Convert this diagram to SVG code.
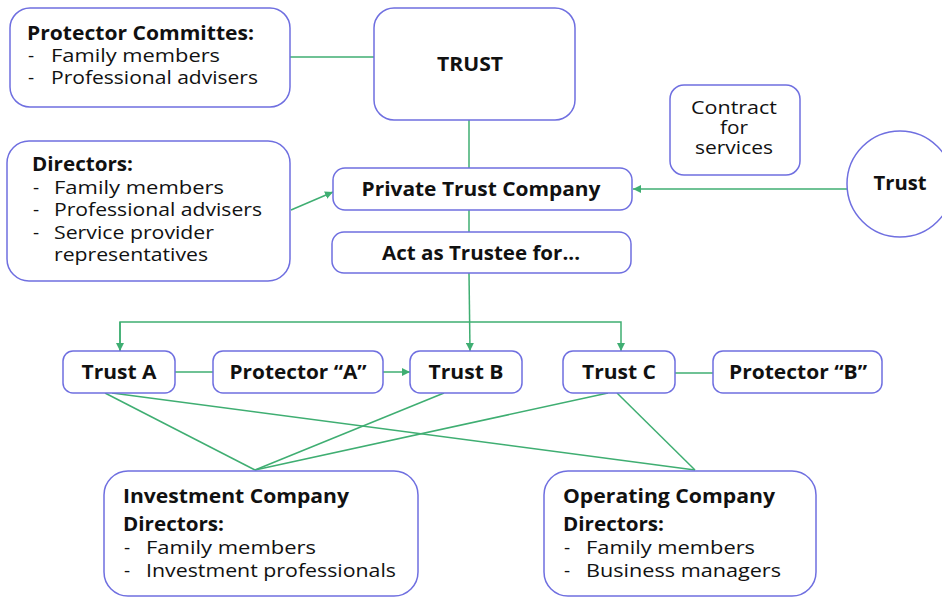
<svg xmlns="http://www.w3.org/2000/svg" width="942" height="597" viewBox="0 0 942 597">
<defs>
<style>
.box{fill:#fff;stroke:#6f6fe0;stroke-width:1.5}
.ln{fill:none;stroke:#3fae72;stroke-width:1.5}
text{font-family:"Open Sans","Liberation Sans",sans-serif;fill:#111;font-size:19px}
.b{font-weight:bold}
.c{text-anchor:middle}
</style>
<marker id="ah" viewBox="0 0 10 10" refX="10" refY="5" markerWidth="8" markerHeight="8" markerUnits="userSpaceOnUse" orient="auto">
<path d="M0,0 L10,5 L0,10 z" fill="#3fae72"/>
</marker>
</defs>
<rect width="942" height="597" fill="#fff"/>
<g id="connectors">
<line class="ln" x1="290" y1="57" x2="374" y2="57"/>
<line class="ln" x1="469" y1="120" x2="469" y2="168"/>
<line class="ln" x1="291" y1="210" x2="333" y2="192" marker-end="url(#ah)"/>
<line class="ln" x1="847" y1="189" x2="633" y2="189" marker-end="url(#ah)"/>
<line class="ln" x1="469" y1="210" x2="469" y2="232"/>
<path class="ln" d="M469,273 L470,351" marker-end="url(#ah)"/>
<path class="ln" d="M120,351 L120,322 L621,322 L621,351" marker-end="url(#ah)"/>
<line class="ln" x1="120" y1="322" x2="120" y2="351" marker-end="url(#ah)"/>
<line class="ln" x1="175" y1="372" x2="213" y2="372"/>
<line class="ln" x1="383" y1="372" x2="410" y2="372" marker-end="url(#ah)"/>
<line class="ln" x1="675" y1="373" x2="713" y2="373"/>
<line class="ln" x1="105" y1="393" x2="255" y2="470"/>
<line class="ln" x1="112" y1="393" x2="695" y2="470"/>
<line class="ln" x1="444" y1="393" x2="255" y2="470"/>
<line class="ln" x1="608" y1="393" x2="255" y2="470"/>
<line class="ln" x1="617" y1="393" x2="695" y2="470"/>
</g>
<g id="protector-committees">
<rect class="box" x="10" y="8" width="280" height="99" rx="20"/>
<text class="b" x="27" y="40" textLength="227" lengthAdjust="spacingAndGlyphs">Protector Committes:</text>
<text x="28" y="62">-</text><text x="51" y="62" textLength="169" lengthAdjust="spacingAndGlyphs">Family members</text>
<text x="28" y="84">-</text><text x="51" y="84" textLength="207" lengthAdjust="spacingAndGlyphs">Professional advisers</text>
</g>
<g id="trust-top">
<rect class="box" x="374" y="8" width="201" height="112" rx="20"/>
<text class="b c" x="470" y="71" textLength="66" lengthAdjust="spacingAndGlyphs">TRUST</text>
</g>
<g id="directors">
<rect class="box" x="7" y="141" width="283" height="140" rx="22"/>
<text class="b" x="32" y="171" textLength="101" lengthAdjust="spacingAndGlyphs">Directors:</text>
<text x="33" y="194">-</text><text x="54" y="194" textLength="170" lengthAdjust="spacingAndGlyphs">Family members</text>
<text x="33" y="216">-</text><text x="54" y="216" textLength="208" lengthAdjust="spacingAndGlyphs">Professional advisers</text>
<text x="33" y="239">-</text><text x="54" y="239" textLength="160" lengthAdjust="spacingAndGlyphs">Service provider</text>
<text x="54" y="261" textLength="154" lengthAdjust="spacingAndGlyphs">representatives</text>
</g>
<g id="ptc">
<rect class="box" x="333" y="168" width="299" height="42" rx="12"/>
<text class="b c" x="481" y="196" textLength="239" lengthAdjust="spacingAndGlyphs">Private Trust Company</text>
</g>
<g id="act-as-trustee">
<rect class="box" x="332" y="232" width="299" height="41" rx="12"/>
<text class="b c" x="481" y="260" textLength="198" lengthAdjust="spacingAndGlyphs">Act as Trustee for...</text>
</g>
<g id="contract">
<rect class="box" x="670" y="85" width="130" height="90" rx="14"/>
<text class="c" x="734" y="114" textLength="86" lengthAdjust="spacingAndGlyphs">Contract</text>
<text class="c" x="734" y="134" textLength="28" lengthAdjust="spacingAndGlyphs">for</text>
<text class="c" x="734" y="154" textLength="78" lengthAdjust="spacingAndGlyphs">services</text>
</g>
<g id="trust-circle">
<circle class="box" cx="900" cy="184" r="53"/>
<text class="b c" x="900" y="190" textLength="53" lengthAdjust="spacingAndGlyphs">Trust</text>
</g>
<g id="trust-a">
<rect class="box" x="63" y="351" width="112" height="42" rx="10"/>
<text class="b c" x="119" y="379" textLength="75" lengthAdjust="spacingAndGlyphs">Trust A</text>
</g>
<g id="protector-a">
<rect class="box" x="213" y="351" width="170" height="42" rx="10"/>
<text class="b c" x="298" y="379" textLength="137" lengthAdjust="spacingAndGlyphs">Protector “A”</text>
</g>
<g id="trust-b">
<rect class="box" x="410" y="351" width="112" height="42" rx="10"/>
<text class="b c" x="466" y="379" textLength="75" lengthAdjust="spacingAndGlyphs">Trust B</text>
</g>
<g id="trust-c">
<rect class="box" x="563" y="351" width="112" height="42" rx="10"/>
<text class="b c" x="619" y="379" textLength="74" lengthAdjust="spacingAndGlyphs">Trust C</text>
</g>
<g id="protector-b">
<rect class="box" x="713" y="351" width="169" height="42" rx="10"/>
<text class="b c" x="798" y="379" textLength="138" lengthAdjust="spacingAndGlyphs">Protector “B”</text>
</g>
<g id="investment-company">
<rect class="box" x="104" y="471" width="314" height="125" rx="24"/>
<text class="b" x="123" y="503" textLength="226" lengthAdjust="spacingAndGlyphs">Investment Company</text>
<text class="b" x="123" y="531" textLength="101" lengthAdjust="spacingAndGlyphs">Directors:</text>
<text x="124" y="554">-</text><text x="146" y="554" textLength="170" lengthAdjust="spacingAndGlyphs">Family members</text>
<text x="124" y="577">-</text><text x="146" y="577" textLength="250" lengthAdjust="spacingAndGlyphs">Investment professionals</text>
</g>
<g id="operating-company">
<rect class="box" x="544" y="471" width="272" height="125" rx="24"/>
<text class="b" x="563" y="503" textLength="212" lengthAdjust="spacingAndGlyphs">Operating Company</text>
<text class="b" x="563" y="531" textLength="101" lengthAdjust="spacingAndGlyphs">Directors:</text>
<text x="564" y="554">-</text><text x="586" y="554" textLength="169" lengthAdjust="spacingAndGlyphs">Family members</text>
<text x="564" y="577">-</text><text x="586" y="577" textLength="195" lengthAdjust="spacingAndGlyphs">Business managers</text>
</g>
</svg>
